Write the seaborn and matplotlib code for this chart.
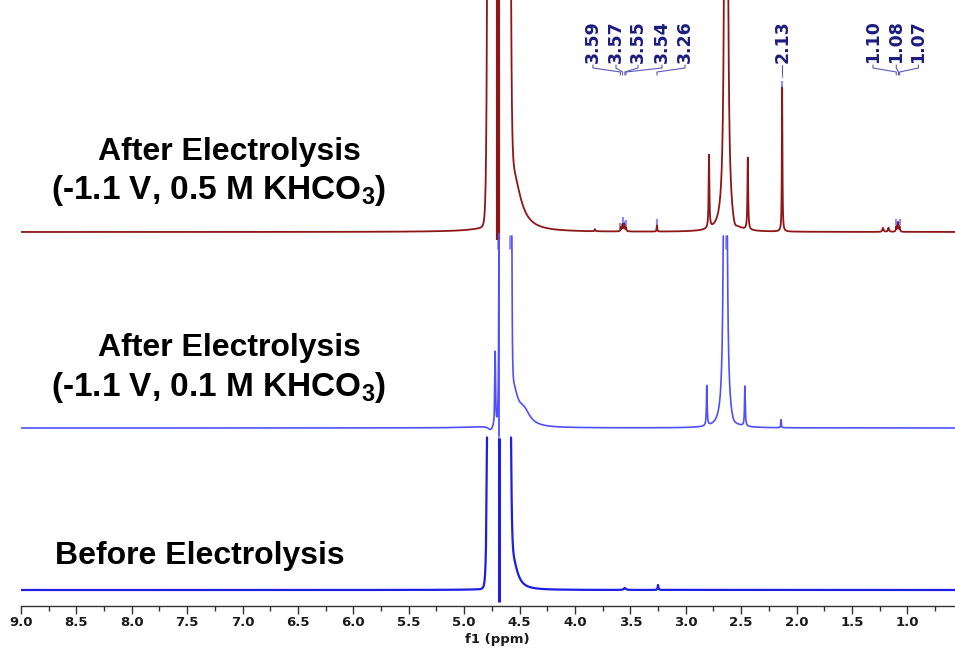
import numpy as np
import pandas as pd
import matplotlib
matplotlib.use("Agg")
import matplotlib.pyplot as plt
from matplotlib.ticker import MultipleLocator, FixedLocator, FixedFormatter
import seaborn as sns

# ---------------- data ----------------
PPM_RANGE = (9.0, 0.57)
XTICKS = [9.0, 8.5, 8.0, 7.5, 7.0, 6.5, 6.0, 5.5, 5.0, 4.5, 4.0, 3.5, 3.0, 2.5, 2.0, 1.5, 1.0]
XTICK_LABELS = ["9.0", "8.5", "8.0", "7.5", "7.0", "6.5", "6.0", "5.5", "5.0",
                "4.5", "4.0", "3.5", "3.0", "2.5", "2.0", "1.5", "1.0"]

trace_labels = ["After Electrolysis\n(-1.1 V, 0.5 M KHCO$_3$)",
                "After Electrolysis\n(-1.1 V, 0.1 M KHCO$_3$)",
                "Before Electrolysis"]
trace_offsets = [417, 221, 59]      # baseline level of each stacked spectrum
trace_clip = [240, 192, 152]        # display ceiling above each baseline

# peak tables: centre (ppm), height, half width (ppm), shape exponent
red_center = [4.686, 4.56, 3.82, 3.585, 3.57, 3.555, 3.54, 3.26, 2.79, 2.636, 2.56, 2.44, 2.13, 1.22, 1.17, 1.10, 1.085, 1.07]
red_height = [3000, 60, 2, 4, 7, 7, 4, 6, 73, 5000, -8, 72, 144, 4, 4, 5, 9, 5]
red_width = [0.0925, 0.08, 0.004, 0.004, 0.004, 0.004, 0.004, 0.003, 0.004, 0.0045, 0.025, 0.004, 0.003, 0.006, 0.006, 0.004, 0.004, 0.004]
red_shape = [16, 2, 2, 2, 2, 2, 2, 2, 2, 2, 2, 2, 2, 2, 2, 2, 2, 2]

mid_center = [4.76, 4.72, 4.628, 4.56, 4.46, 2.81, 2.643, 2.57, 2.466, 2.14]
mid_height = [-5, 74, 3000, 40, 14, 40, 3500, -4, 40, 8]
mid_width = [0.03, 0.004, 0.049, 0.05, 0.065, 0.004, 0.0045, 0.03, 0.004, 0.003]
mid_shape = [2, 2, 16, 2, 2, 2, 2, 2, 2, 2]

bot_center = [4.686, 4.56, 3.55, 3.25]
bot_height = [3000, 30, 2, 5]
bot_width = [0.09, 0.05, 0.01, 0.004]
bot_shape = [16, 2, 2, 2]

# solvent-suppression artefact lines (ppm, top, bottom above baseline)
artifact_ppm = [4.695, 4.686, 4.686]
artifact_top = [240, 195, 152]
artifact_bottom = [-8, -8, -12]

# peak-pick markers below traces
red_pick_ppm = [4.695, 4.59, 2.636]
mid_pick_ppm = [4.79, 4.686, 4.58]

# peak annotations
ann_text = ["3.59", "3.57", "3.55", "3.54", "3.26", "2.13", "1.10", "1.08", "1.07"]
ann_peak = [3.59, 3.57, 3.55, 3.54, 3.26, 2.13, 1.10, 1.08, 1.07]
ann_label_x = [3.838, 3.630, 3.431, 3.215, 3.007, 2.13, 1.31, 1.10, 0.90]

# ---------------- styling ----------------
W, H = 955, 649
sns.set_theme(style="white")
plt.rcParams["font.family"] = ["DejaVu Sans"]
plt.rcParams["mathtext.fontset"] = "custom"
plt.rcParams["mathtext.rm"] = "Liberation Sans:bold"
plt.rcParams["mathtext.default"] = "rm"

trace_colors = ["#8e1616", "#4f4fff", "#1e1ee4"]
trace_lw = [1.3, 1.2, 1.6]
artifact_lw = [3.0, 1.3, 2.2]

fig = plt.figure(figsize=(W / 100, H / 100), dpi=100)
ax = fig.add_axes([21 / W, 43 / H, 934 / W, 606 / H])

grid = np.arange(0.50, 9.05, 0.0004)


def spectrum(x, centers, heights, widths, shapes):
    d = x[:, None] - np.asarray(centers)[None, :]
    return (np.asarray(heights) /
            (1.0 + np.abs(d / np.asarray(widths)) ** np.asarray(shapes))).sum(axis=1)


tables = [(red_center, red_height, red_width, red_shape),
          (mid_center, mid_height, mid_width, mid_shape),
          (bot_center, bot_height, bot_width, bot_shape)]

for i, (c, h, w, s) in enumerate(tables):
    x = np.union1d(grid, c)
    y = spectrum(x, c, h, w, s)
    over = y > trace_clip[i]
    keep = (~over) | np.r_[False, ~over[:-1]] | np.r_[~over[1:], False]
    seg = np.cumsum(~keep)
    df = pd.DataFrame({"ppm": x[keep],
                       "signal": np.minimum(y[keep], trace_clip[i]) + trace_offsets[i],
                       "seg": seg[keep]})
    sns.lineplot(data=df, x="ppm", y="signal", units="seg", estimator=None,
                 sort=False, color=trace_colors[i], lw=trace_lw[i], ax=ax,
                 legend=False)
    ax.vlines(artifact_ppm[i], trace_offsets[i] + artifact_bottom[i],
              trace_offsets[i] + artifact_top[i], color=trace_colors[i],
              lw=artifact_lw[i], zorder=3)

# peak-pick markers
ax.vlines(red_pick_ppm, trace_offsets[0] - 17, trace_offsets[0] - 3,
          color="#8c8cff", lw=2.0, zorder=1)
ax.vlines(mid_pick_ppm, trace_offsets[1] - 14, trace_offsets[1] - 8,
          color="#8c8cff", lw=1.5, zorder=1)

# annotations
ann_color = "#1c1c80"
line_color = "#5a5ab8"
y_text_top = H - 20
y1, y2, y3, y4 = H - 65, H - 68, H - 72, H - 75
red_top = spectrum(np.asarray(ann_peak), red_center, red_height, red_width, red_shape)
for t, pk, lx, top in zip(ann_text, ann_peak, ann_label_x, red_top):
    ax.text(lx, y_text_top, t, rotation=90, ha="center", va="top",
            fontsize=12.5, fontweight="bold", color=ann_color)
    ax.plot([lx, lx, pk, pk], [y1, y2, y3, y4], color=line_color, lw=0.8)
    ptop = trace_offsets[0] + top
    if t == "2.13":
        ax.plot([pk, pk], [y4, ptop + 3], color="#9a9ac8", lw=1.0, ls=(0, (2, 2)))
    ax.vlines(pk, ptop + 1, ptop + 7, color="#8c8cff", lw=1.5, zorder=1)

ax.set_xlim(*PPM_RANGE)
ax.set_ylim(43, H)
ax.set_yticks([])
ax.set_ylabel("")
ax.xaxis.set_major_locator(FixedLocator(XTICKS))
ax.xaxis.set_major_formatter(FixedFormatter(XTICK_LABELS))
ax.xaxis.set_minor_locator(MultipleLocator(0.25))
ax.tick_params(axis="x", which="major", direction="out", length=6, width=1,
               color="#333333", bottom=True, pad=1.5)
ax.tick_params(axis="x", which="minor", direction="out", length=3.5, width=1,
               color="#333333", bottom=True)
for lbl in ax.get_xticklabels():
    lbl.set_fontweight("bold")
    lbl.set_fontsize(9.5)
    lbl.set_color("#1a1a1a")
ax.set_xlabel("f1 (ppm)", fontsize=9.5, fontweight="bold", color="#1a1a1a", labelpad=0)
ax.xaxis.set_label_coords((497 - 21) / 934, -0.044)
for side in ["left", "top", "right"]:
    ax.spines[side].set_visible(False)
ax.spines["bottom"].set_color("#333333")
ax.spines["bottom"].set_linewidth(1.0)
ax.set_facecolor("white")
fig.patch.set_facecolor("white")

# stacked trace titles
label_font = dict(fontweight="bold", color="black",
                  family=["Liberation Sans", "DejaVu Sans"], ha="center", va="center")
fig.text(229 / W, 1 - 152 / H, "After Electrolysis", fontsize=23, **label_font)
fig.text(219 / W, 1 - 190 / H, "(-1.1 V, 0.5 M KHCO$_3$)", fontsize=24, **label_font)
fig.text(229 / W, 1 - 348 / H, "After Electrolysis", fontsize=23, **label_font)
fig.text(219 / W, 1 - 387 / H, "(-1.1 V, 0.1 M KHCO$_3$)", fontsize=24, **label_font)
fig.text(200 / W, 1 - 556 / H, "Before Electrolysis", fontsize=23, **label_font)

fig.savefig("out.png", dpi=100, facecolor="white")
